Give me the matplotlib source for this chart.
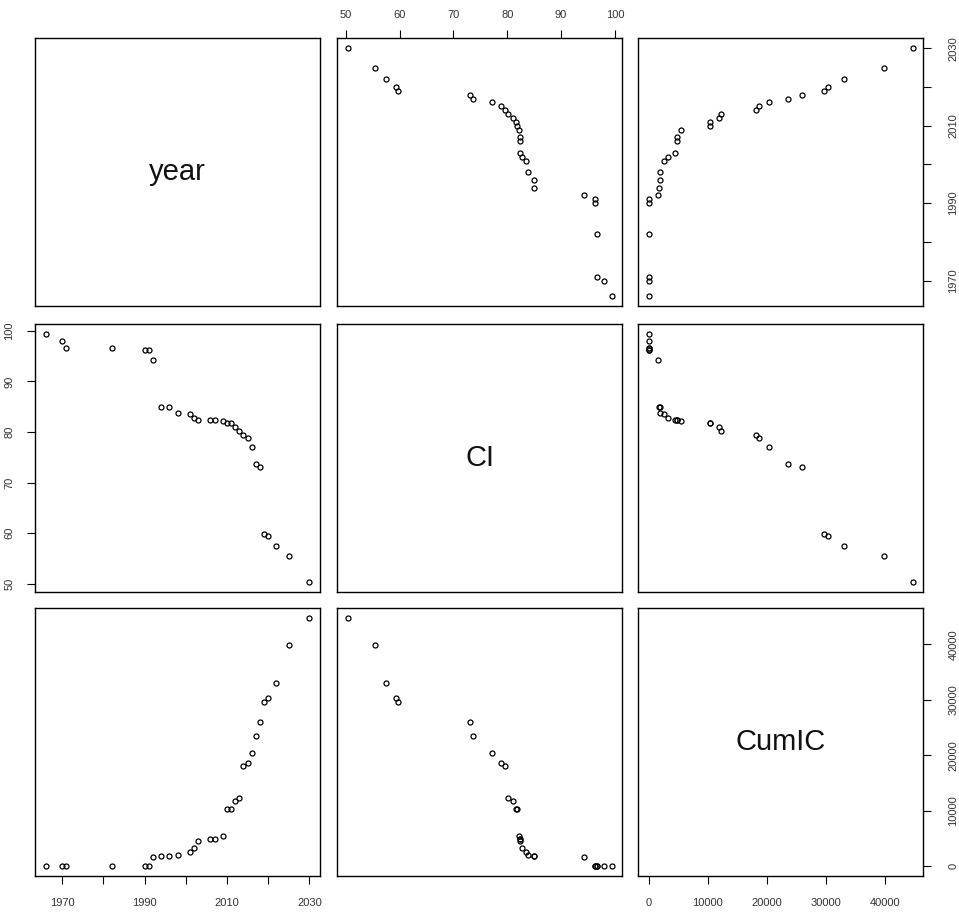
import matplotlib
matplotlib.use("Agg")
import matplotlib.pyplot as plt

year = [1966, 1970, 1971, 1982, 1990, 1991, 1992, 1994, 1996, 1998,
        2001, 2002, 2003, 2006, 2007, 2009, 2010, 2011, 2012, 2013,
        2014, 2015, 2016, 2017, 2018, 2019, 2020, 2022, 2025, 2030]
CI = [99.4, 98.0, 96.7, 96.6, 96.2, 96.2, 94.3, 85.0, 84.9, 83.8,
      83.5, 82.7, 82.4, 82.4, 82.4, 82.2, 81.8, 81.7, 81.0, 80.2,
      79.5, 78.8, 77.1, 73.6, 73.1, 59.8, 59.4, 57.5, 55.4, 50.4]
CumIC = [0, 0, 0, 0, 0, 0, 1600, 1800, 1850, 1950,
         2500, 3200, 4500, 4800, 4850, 5400, 10300, 10350, 11800, 12200,
         18100, 18600, 20400, 23500, 25900, 29600, 30400, 33100, 39900, 44700]

names = ["year", "CI", "CumIC"]
data = {"year": year, "CI": CI, "CumIC": CumIC}
ticks = {
    "year": [1970, 1980, 1990, 2000, 2010, 2020, 2030],
    "CI": [50, 60, 70, 80, 90, 100],
    "CumIC": [0, 10000, 20000, 30000, 40000],
}
shown = {
    "year": ["1970", "", "1990", "", "2010", "", "2030"],
    "CI": ["50", "60", "70", "80", "90", "100"],
    "CumIC": ["0", "10000", "20000", "30000", "40000"],
}

def lims(v):
    lo, hi = min(v), max(v)
    p = 0.04 * (hi - lo)
    return lo - p, hi + p

plt.rcParams['font.family'] = ['Liberation Sans', 'DejaVu Sans']
W, H = 959, 913
fig = plt.figure(figsize=(W / 100, H / 100), dpi=100)

col_left = [35, 337.3, 638.3]
row_top = [38.3, 324, 608.3]
pw, ph = 285, 267.7
lab_col = '#333333'

for i, ry in enumerate(names):
    for j, cx in enumerate(names):
        ax = fig.add_axes([col_left[j] / W, 1 - (row_top[i] + ph) / H, pw / W, ph / H])
        for s in ax.spines.values():
            s.set_linewidth(1.0)
            s.set_color('black')
        ax.set_xlim(*lims(data[cx]))
        ax.set_ylim(*lims(data[ry]))
        ax.set_xticks([])
        ax.set_yticks([])
        if i == j:
            ax.text(0.5, 0.5, ry, transform=ax.transAxes, ha='center', va='center',
                    fontsize=21, color='#111111')
        else:
            ax.plot(data[cx], data[ry], linestyle='none', marker='o', markersize=3.6,
                    markerfacecolor='none', markeredgecolor='black', markeredgewidth=0.9)
        pad_x = 8
        pad_y = 9
        # axes placement like R pairs()
        if i == 0 and j == 1:
            ax.xaxis.set_ticks_position('top')
            ax.set_xticks(ticks[cx])
            ax.set_xticklabels(shown[cx])
            pad_x = 7
        if i == 2 and j in (0, 2):
            ax.xaxis.set_ticks_position('bottom')
            ax.set_xticks(ticks[cx])
            ax.set_xticklabels(shown[cx])
            pad_x = 10
        if j == 0 and i == 1:
            ax.yaxis.set_ticks_position('left')
            ax.set_yticks(ticks[ry])
            ax.set_yticklabels(shown[ry], rotation=90, va='center')
        if j == 2 and i in (0, 2):
            ax.yaxis.set_ticks_position('right')
            ax.set_yticks(ticks[ry])
            ax.set_yticklabels(shown[ry], rotation=90, va='center')
            pad_y = 12
        ax.tick_params(axis='x', direction='out', length=6, width=0.8,
                       labelsize=8, pad=pad_x, colors='black', labelcolor=lab_col)
        ax.tick_params(axis='y', direction='out', length=6, width=0.8,
                       labelsize=8, pad=pad_y, colors='black', labelcolor=lab_col)

fig.savefig("out.png", dpi=100, facecolor='white')
